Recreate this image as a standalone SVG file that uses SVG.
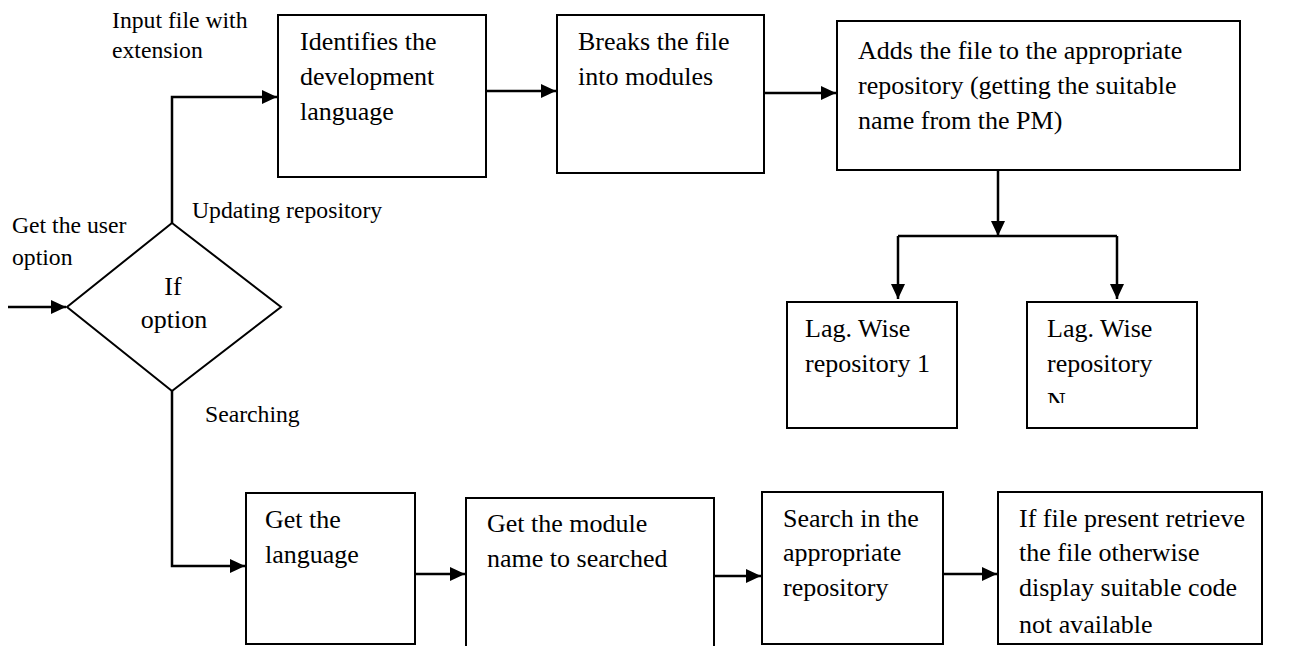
<svg xmlns="http://www.w3.org/2000/svg" width="1296" height="646" viewBox="0 0 1296 646">
<style>
  .box { fill: #ffffff; stroke: #000000; stroke-width: 2; }
  .t { font-family: "Liberation Serif", "Times New Roman", serif; font-size: 26px; fill: #000000; }
  .lbl { font-family: "Liberation Serif", "Times New Roman", serif; font-size: 23.7px; fill: #000000; }
  .c { fill: none; stroke: #000000; stroke-width: 2.5; }
</style>
<defs>
  <marker id="arr" markerUnits="userSpaceOnUse" markerWidth="16" markerHeight="14" refX="15" refY="7" orient="auto">
    <path d="M0,0 L15,7 L0,14 z" fill="#000000"/>
  </marker>
  <clipPath id="clipN"><rect x="1030" y="380" width="160" height="23"/></clipPath>
</defs>
<rect width="1296" height="646" fill="#ffffff"/>

<g id="connectors">
  <path class="c" d="M8,307 H66" marker-end="url(#arr)"/>
  <path class="c" d="M172,223 V97 H277" marker-end="url(#arr)"/>
  <path class="c" d="M172,391 V566 H245" marker-end="url(#arr)"/>
  <path class="c" d="M486,91 H556" marker-end="url(#arr)"/>
  <path class="c" d="M764,93 H836" marker-end="url(#arr)"/>
  <path class="c" d="M998,170 V236" marker-end="url(#arr)"/>
  <path class="c" d="M898,236 H1117"/>
  <path class="c" d="M898,236 V299" marker-end="url(#arr)"/>
  <path class="c" d="M1117,236 V299" marker-end="url(#arr)"/>
  <path class="c" d="M415,574 H465" marker-end="url(#arr)"/>
  <path class="c" d="M714,576 H761" marker-end="url(#arr)"/>
  <path class="c" d="M943,574 H997" marker-end="url(#arr)"/>
</g>

<g id="labels">
  <text class="lbl" x="112" y="28">Input file with</text>
  <text class="lbl" x="112" y="58">extension</text>
  <text class="lbl" x="12" y="233">Get the user</text>
  <text class="lbl" x="12" y="265">option</text>
  <text class="lbl" x="192" y="218">Updating repository</text>
  <text class="lbl" x="205" y="422">Searching</text>
</g>

<g id="decision">
  <polygon class="box" points="172,223 281,307 172,391 67,307"/>
  <text class="t" x="173" y="295" text-anchor="middle">If</text>
  <text class="t" x="174" y="328" text-anchor="middle">option</text>
</g>

<g id="identify">
  <rect class="box" x="278" y="15" width="208" height="162"/>
  <text class="t" x="300" y="50">Identifies the</text>
  <text class="t" x="300" y="85">development</text>
  <text class="t" x="300" y="120">language</text>
</g>

<g id="breaks">
  <rect class="box" x="557" y="15" width="207" height="158"/>
  <text class="t" x="578" y="50">Breaks the file</text>
  <text class="t" x="578" y="85">into modules</text>
</g>

<g id="adds">
  <rect class="box" x="837" y="21" width="403" height="149"/>
  <text class="t" x="858" y="59">Adds the file to the appropriate</text>
  <text class="t" x="858" y="94">repository (getting the suitable</text>
  <text class="t" x="858" y="129">name from the PM)</text>
</g>

<g id="repo1">
  <rect class="box" x="787" y="302" width="170" height="126"/>
  <text class="t" x="805" y="337">Lag. Wise</text>
  <text class="t" x="805" y="372">repository 1</text>
</g>

<g id="repoN">
  <rect class="box" x="1027" y="302" width="170" height="126"/>
  <text class="t" x="1047" y="337">Lag. Wise</text>
  <text class="t" x="1047" y="372">repository</text>
  <text class="t" x="1047" y="410" clip-path="url(#clipN)">N</text>
</g>

<g id="getlang">
  <rect class="box" x="246" y="493" width="169" height="151"/>
  <text class="t" x="265" y="528">Get the</text>
  <text class="t" x="265" y="563">language</text>
</g>

<g id="getmodule">
  <path class="box" d="M466,647 V498 H714 V647"/>
  <text class="t" x="487" y="532">Get the module</text>
  <text class="t" x="487" y="567">name to searched</text>
</g>

<g id="search">
  <rect class="box" x="762" y="492" width="181" height="152"/>
  <text class="t" x="783" y="527">Search in the</text>
  <text class="t" x="783" y="561">appropriate</text>
  <text class="t" x="783" y="596">repository</text>
</g>

<g id="result">
  <rect class="box" x="998" y="492" width="264" height="152"/>
  <text class="t" x="1019" y="527">If file present retrieve</text>
  <text class="t" x="1019" y="561">the file otherwise</text>
  <text class="t" x="1019" y="596">display suitable code</text>
  <text class="t" x="1019" y="633">not available</text>
</g>
</svg>
